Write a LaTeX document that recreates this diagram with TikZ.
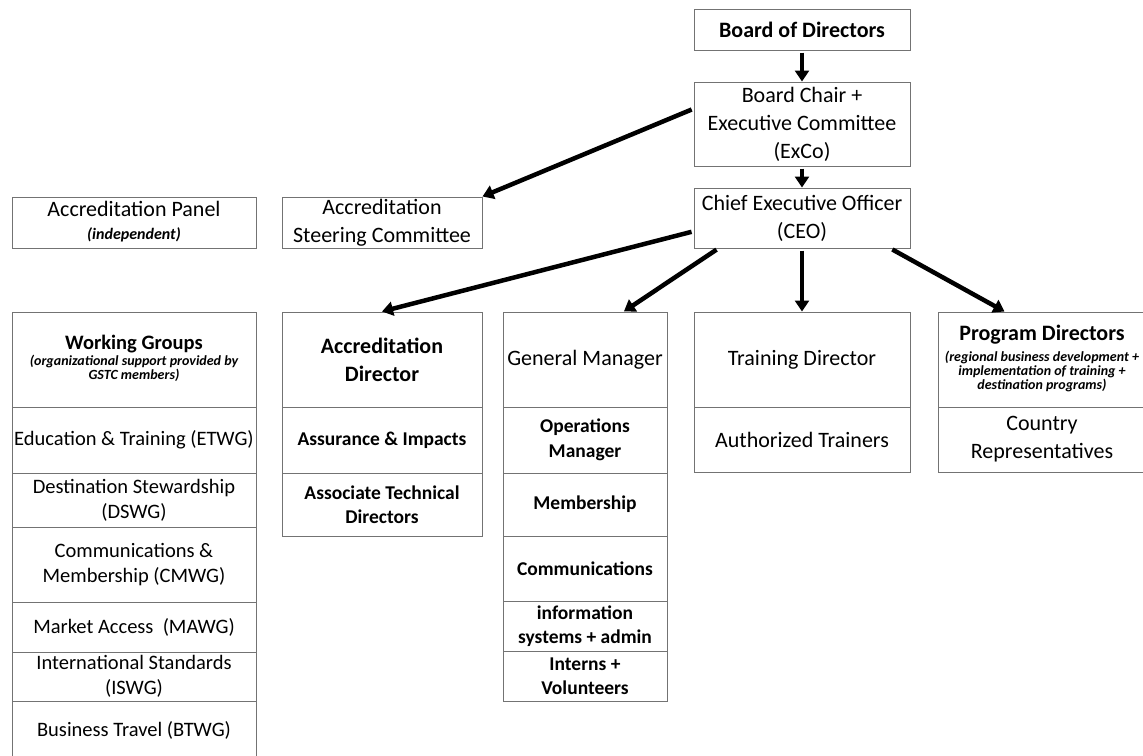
\documentclass[tikz,border=0pt]{standalone}
\usepackage{fontspec}
\setmainfont{Carlito}
\usetikzlibrary{arrows.meta}

\newcommand{\gnote}[2][14]{{\fontsize{#1}{#1pt+3pt}\selectfont\bfseries\itshape\begin{tabular}[t]{@{}c@{}}#2\end{tabular}}}

\begin{document}
\begin{tikzpicture}[x=1pt,y=-1pt,
  box/.style={shape=rectangle,draw=black!55,line width=1pt,inner sep=0pt,align=center,font=\fontsize{22}{28}\selectfont},
  boxT/.style={box,font=\fontsize{22}{28}\selectfont\bfseries},
  boxS/.style={box,font=\fontsize{19.5}{24.5}\selectfont\bfseries},
  boxW/.style={box,font=\fontsize{20.5}{25}\selectfont},
  link/.style={line width=4.5pt,-{Triangle[length=11pt,width=14pt]},shorten <=2pt}]
\useasboundingbox (0,0) rectangle (1143,755);

\node[boxT,minimum width=216pt,minimum height=41pt] (board) at (802,29.5) {Board of Directors};
\node[box,minimum width=216pt,minimum height=84pt] (chair) at (802,124) {Board Chair +\\Executive Committee\\(ExCo)};
\node[box,minimum width=216pt,minimum height=60pt] (ceo) at (802,218) {Chief Executive Officer\\(CEO)};

\node[box,minimum width=244pt,minimum height=51pt] (panel) at (134,222.5) {Accreditation Panel\\[-5pt]\gnote[16]{(independent)}};
\node[box,minimum width=200pt,minimum height=51pt] (steer) at (382,222.5) {Accreditation\\Steering Committee};

\node[boxW,minimum width=244pt,minimum height=95pt] (wg) at (134,359.5) {\textbf{Working Groups}\\[-9pt]\gnote{(organizational support provided by\\GSTC members)}};
\node[boxW,minimum width=244pt,minimum height=66pt] (etwg) at (134,440) {Education \& Training (ETWG)};
\node[boxW,minimum width=244pt,minimum height=54pt] (dswg) at (134,500) {Destination Stewardship\\(DSWG)};
\node[boxW,minimum width=244pt,minimum height=75pt] (cmwg) at (134,564.5) {Communications \&\\Membership (CMWG)};
\node[boxW,minimum width=244pt,minimum height=50pt] (mawg) at (134,627) {Market Access\ \ (MAWG)};
\node[boxW,minimum width=244pt,minimum height=49pt] (iswg) at (134,676.5) {International Standards\\(ISWG)};
\node[boxW,minimum width=244pt,minimum height=59pt] (btwg) at (134,730.5) {Business Travel (BTWG)};

\node[boxT,minimum width=200pt,minimum height=95pt] (accdir) at (382,359.5) {Accreditation\\Director};
\node[boxS,minimum width=200pt,minimum height=66pt] (assur) at (382,440) {Assurance \& Impacts};
\node[boxS,minimum width=200pt,minimum height=63pt] (assoc) at (382,504.5) {Associate Technical\\Directors};

\node[box,minimum width=164pt,minimum height=95pt] (gm) at (585,359.5) {General Manager};
\node[boxS,minimum width=164pt,minimum height=66pt] (ops) at (585,440) {Operations\\Manager};
\node[boxS,minimum width=164pt,minimum height=63pt] (memb) at (585,504.5) {Membership};
\node[boxS,minimum width=164pt,minimum height=65pt] (comms) at (585,568.5) {Communications};
\node[boxS,minimum width=164pt,minimum height=50pt] (infosys) at (585,626) {information\\systems + admin};
\node[boxS,minimum width=164pt,minimum height=50pt] (interns) at (585,676) {Interns +\\Volunteers};

\node[box,minimum width=216pt,minimum height=95pt] (train) at (802,359.5) {Training Director};
\node[box,minimum width=216pt,minimum height=65pt] (trainers) at (802,439.5) {Authorized Trainers};

\node[boxT,minimum width=208pt,minimum height=95pt] (prog) at (1042,359.5) {Program Directors\\[-7pt]\gnote{(regional business development +\\implementation of training +\\destination programs)}};
\node[box,minimum width=208pt,minimum height=65pt] (country) at (1042,439.5) {Country\\Representatives};

\draw[link] (board.south) -- (chair.north);
\draw[link] (chair.south) -- (ceo.north);
\draw[link] (chair.172) -- (steer.north east);
\draw[link] (ceo.187) -- (accdir.north);
\draw[link] (ceo.200) -- (gm.51);
\draw[link] (ceo.south) -- (train.north);
\draw[link] (ceo.341) -- (prog.128);
\end{tikzpicture}
\end{document}
